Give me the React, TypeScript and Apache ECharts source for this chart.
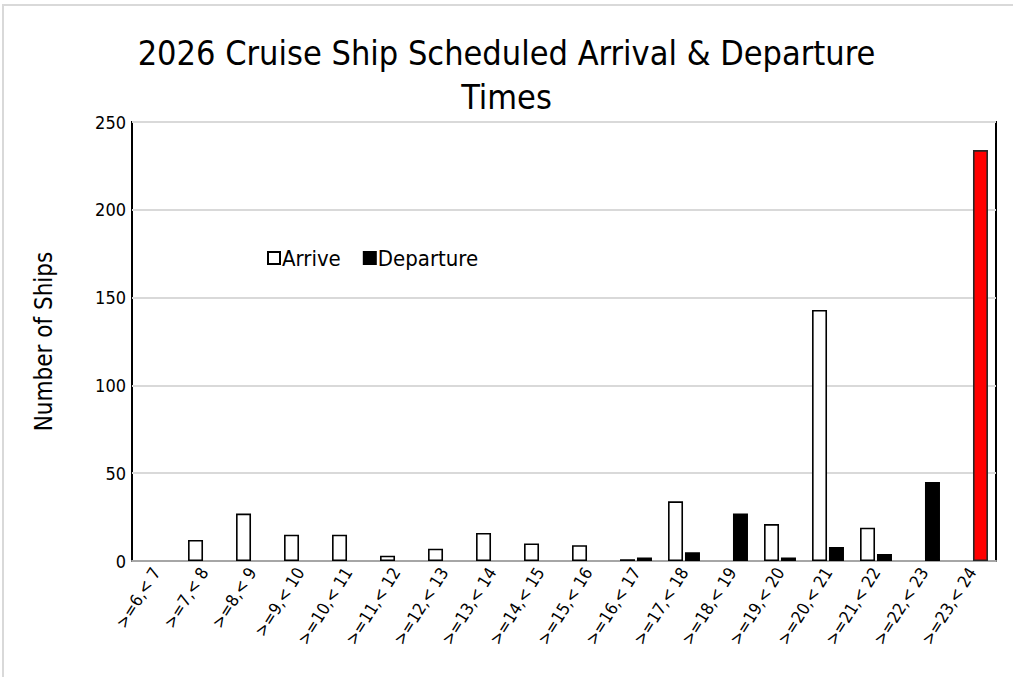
import React, { useEffect, useRef } from "react";
import * as echarts from "echarts";

const TITLE = "2026 Cruise Ship Scheduled Arrival & Departure\nTimes";
const categories = [
  ">=6,< 7", ">=7,< 8", ">=8,< 9", ">=9,< 10", ">=10,< 11", ">=11,< 12",
  ">=12,< 13", ">=13,< 14", ">=14,< 15", ">=15,< 16", ">=16,< 17", ">=17,< 18",
  ">=18,< 19", ">=19,< 20", ">=20,< 21", ">=21,< 22", ">=22,< 23", ">=23,< 24",
];
const arriveValues = [0, 12, 27, 15, 15, 3, 7, 16, 10, 9, 1, 34, 0, 21, 143, 19, 0, 0];
const departureValues = [0, 0, 0, 0, 0, 0, 0, 0, 0, 0, 2, 5, 27, 2, 8, 4, 45, 234];
const highlightIndex = 17;
const yTicks = { min: 0, max: 250, interval: 50 };

const FONT = "'DejaVu Sans Condensed', 'Liberation Sans', sans-serif";

export default function App() {
  const ref = useRef<HTMLDivElement>(null);
  useEffect(() => {
    document.body.style.margin = "0";
    const chart = echarts.init(ref.current!, null, { renderer: "svg" });
    const arrData = arriveValues.map((v) => (v === 0 ? null : v));
    const depData = departureValues.map((v, i) =>
      v === 0
        ? null
        : i === highlightIndex
        ? { value: v, itemStyle: { color: "#ff0000", borderColor: "#262626" } }
        : v
    );
    chart.setOption({
      animation: false,
      backgroundColor: "#ffffff",
      textStyle: { fontFamily: FONT },
      graphic: [
        {
          type: "rect",
          shape: { x: 3, y: 5, width: 1100, height: 800 },
          style: { fill: "none", stroke: "#d9d9d9", lineWidth: 2 },
          silent: true,
        },
      ],
      title: {
        text: TITLE,
        left: "center",
        top: 26,
        textStyle: {
          fontFamily: FONT,
          fontSize: 34,
          fontWeight: "normal",
          color: "#000",
          lineHeight: 44,
        },
      },
      legend: {
        left: 262,
        top: 242,
        itemWidth: 12,
        itemHeight: 12,
        itemGap: 22,
        icon: "rect",
        textStyle: { fontFamily: FONT, fontSize: 22, color: "#000", padding: [0, 0, 0, -3] },
        data: ["Arrive", "Departure"],
      },
      grid: {
        left: 132,
        right: 17,
        top: 122,
        bottom: 116,
        show: true,
        borderColor: "#000",
        borderWidth: 2,
        backgroundColor: "transparent",
      },
      xAxis: {
        type: "category",
        data: categories,
        axisLine: { lineStyle: { color: "#a6a6a6", width: 2 } },
        axisTick: { show: false },
        axisLabel: {
          rotate: 58,
          interval: 0,
          fontSize: 17,
          color: "#000",
          fontFamily: FONT,
          margin: 8,
        },
      },
      yAxis: {
        type: "value",
        min: yTicks.min,
        max: yTicks.max,
        interval: yTicks.interval,
        name: "Number of Ships",
        nameLocation: "middle",
        nameGap: 76,
        nameTextStyle: { fontSize: 24, color: "#000", fontFamily: FONT },
        axisLine: { show: false },
        axisTick: { show: false },
        axisLabel: { fontSize: 18, color: "#000", margin: 6, fontFamily: FONT },
        splitLine: { lineStyle: { color: "#d9d9d9", width: 2 } },
      },
      series: [
        {
          name: "Arrive",
          type: "bar",
          data: arrData,
          barWidth: 15,
          barGap: "13%",
          itemStyle: { color: "#ffffff", borderColor: "#000", borderWidth: 1.6 },
        },
        {
          name: "Departure",
          type: "bar",
          data: depData,
          barWidth: 15,
          barGap: "13%",
          itemStyle: { color: "#000000", borderColor: "#000", borderWidth: 1.6 },
        },
      ],
    });
    return () => chart.dispose();
  }, []);
  return <div ref={ref} style={{ width: 1013, height: 677 }} />;
}
